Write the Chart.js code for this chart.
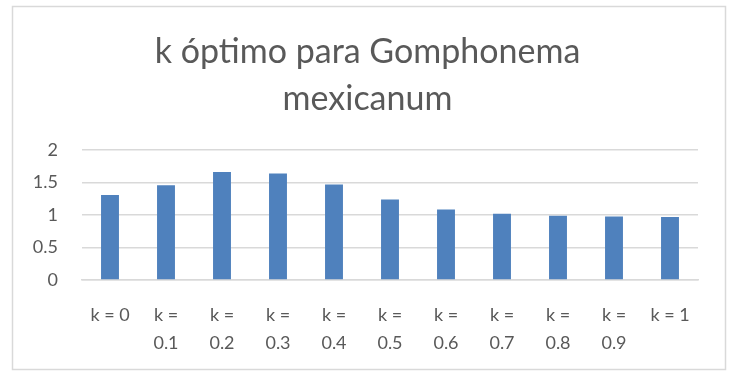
<!DOCTYPE html>
<html>
<head>
<meta charset="utf-8">
<script src="https://cdn.jsdelivr.net/npm/chart.js@4/dist/chart.umd.min.js"></script>
<style>
  html, body { margin: 0; padding: 0; background: #fff; }
  #wrap { position: absolute; left: 0; top: 0; width: 735px; height: 374px; }
</style>
</head>
<body>
<div id="wrap"><canvas id="kChart" width="735" height="374"></canvas></div>
<script>
// etiquetas del eje x (multilínea como en Excel)
const categorias = [
  'k = 0', ['k =', '0.1'], ['k =', '0.2'], ['k =', '0.3'], ['k =', '0.4'],
  ['k =', '0.5'], ['k =', '0.6'], ['k =', '0.7'], ['k =', '0.8'], ['k =', '0.9'], 'k = 1'
];
const valores = [1.31, 1.46, 1.665, 1.64, 1.47, 1.24, 1.085, 1.02, 0.99, 0.98, 0.97];
const tituloLineas = ['k óptimo para Gomphonema', 'mexicanum'];
const yMin = 0, yMax = 2, yPaso = 0.5;

const gris = '#595959';
const lineaGris = '#d9d9d9';
const fuente = 'Lato, "Open Sans", sans-serif';

// marco exterior del gráfico
const marco = {
  id: 'marco',
  beforeDraw(chart) {
    const c = chart.ctx;
    c.save();
    c.fillStyle = '#fff';
    c.fillRect(0, 0, chart.width, chart.height);
    c.strokeStyle = lineaGris;
    c.lineWidth = 1.5;
    c.strokeRect(12.5, 6.5, 713, 363);
    c.restore();
  }
};

new Chart(document.getElementById('kChart'), {
  type: 'bar',
  data: {
    labels: categorias,
    datasets: [{
      data: valores,
      backgroundColor: '#4f81bd',
      borderWidth: 0,
      categoryPercentage: 1,
      barPercentage: 0.32
    }]
  },
  options: {
    responsive: false,
    animation: false,
    layout: { padding: { left: 0, right: 0, top: 28, bottom: 0 } },
    plugins: {
      legend: { display: false },
      tooltip: { enabled: false },
      title: {
        display: true,
        text: tituloLineas,
        color: gris,
        font: { family: fuente, size: 34, weight: 'normal', lineHeight: 1.4 },
        padding: { top: 0, bottom: 27 }
      }
    },
    scales: {
      x: {
        grid: { display: false },
        border: { color: lineaGris, width: 1.5 },
        ticks: {
          color: gris,
          font: { family: fuente, size: 18, lineHeight: 1.55 },
          padding: 13,
          maxRotation: 0,
          autoSkip: false
        },
        afterFit(scale) { scale.height = 94; }
      },
      y: {
        min: yMin,
        max: yMax,
        grid: { color: lineaGris, lineWidth: 1.5, drawTicks: false },
        border: { display: false },
        ticks: {
          stepSize: yPaso,
          color: gris,
          font: { family: fuente, size: 18 },
          padding: 24,
          callback: v => String(v)
        },
        afterFit(scale) { scale.width = 82; }
      },
      // eje vacío a la derecha: deja margen sin descentrar el título
      margen: {
        position: 'right',
        min: yMin,
        max: yMax,
        grid: { display: false },
        border: { display: false },
        ticks: { display: false },
        afterFit(scale) { scale.width = 37; }
      }
    }
  },
  plugins: [marco]
});
</script>
</body>
</html>
